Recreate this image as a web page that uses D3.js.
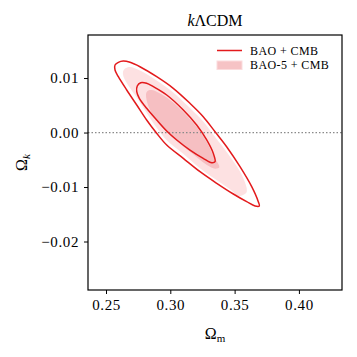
<!DOCTYPE html>
<html><head><meta charset="utf-8">
<script src="https://cdn.jsdelivr.net/npm/d3@7/dist/d3.min.js"></script>
<style>body{margin:0;background:#fff}svg{display:block}text{font-family:"Liberation Serif","Times New Roman",serif;fill:#000}</style>
</head><body>
<svg id="c" width="357" height="357"></svg>
<script>
// ---- data (Ωm, Ωk) ----
const title = "kΛCDM";
const xTicks = [0.25, 0.30, 0.35, 0.40];
const yTicks = [0.01, 0.00, -0.01, -0.02];
const xDomain = [0.236, 0.4335];
const yDomain = [-0.0289, 0.0179];
const seriesNames = ["BAO + CMB", "BAO-5 + CMB"];
// BAO + CMB contours (lines)
const baoCmb2sigma = [[0.2570,0.01148],[0.2570,0.01239],[0.2596,0.01289],[0.2634,0.01313],[0.2687,0.01289],[0.2764,0.01208],[0.2894,0.01025],[0.3023,0.00812],[0.3153,0.00536],[0.3256,0.00291],[0.3348,0.00015],[0.3438,-0.00260],[0.3542,-0.00627],[0.3633,-0.00994],[0.3684,-0.01269],[0.3692,-0.01348],[0.3659,-0.01348],[0.3594,-0.01269],[0.3490,-0.01128],[0.3361,-0.00932],[0.3231,-0.00719],[0.3101,-0.00473],[0.2972,-0.00229],[0.2894,-0.00014],[0.2816,0.00230],[0.2739,0.00505],[0.2661,0.00781],[0.2596,0.01025]];
const baoCmb1sigma = [[0.2739,0.00749],[0.2743,0.00854],[0.2770,0.00915],[0.2816,0.00904],[0.2868,0.00841],[0.2972,0.00689],[0.3101,0.00414],[0.3205,0.00138],[0.3283,-0.00137],[0.3334,-0.00381],[0.3348,-0.00535],[0.3322,-0.00554],[0.3256,-0.00473],[0.3153,-0.00321],[0.3050,-0.00137],[0.2972,0.00028],[0.2894,0.00230],[0.2816,0.00445],[0.2759,0.00628]];
// BAO-5 + CMB contours (filled)
const bao5Cmb2sigma = [[0.2632,0.01111],[0.2648,0.01175],[0.2687,0.01203],[0.2764,0.01138],[0.2894,0.00955],[0.3023,0.00735],[0.3153,0.00450],[0.3256,0.00202],[0.3348,-0.00082],[0.3438,-0.00357],[0.3542,-0.00715],[0.3592,-0.01000],[0.3592,-0.01101],[0.3565,-0.01146],[0.3526,-0.01165],[0.3472,-0.01055],[0.3348,-0.00853],[0.3223,-0.00642],[0.3103,-0.00394],[0.2978,-0.00155],[0.2904,0.00056],[0.2834,0.00294],[0.2760,0.00570],[0.2687,0.00817],[0.2640,0.01001]];
const bao5Cmb1sigma = [[0.2811,0.00689],[0.2821,0.00757],[0.2855,0.00781],[0.2972,0.00643],[0.3101,0.00377],[0.3205,0.00101],[0.3283,-0.00174],[0.3334,-0.00422],[0.3381,-0.00638],[0.3348,-0.00664],[0.3285,-0.00596],[0.3176,-0.00394],[0.3068,-0.00192],[0.2972,0.00010],[0.2881,0.00258],[0.2829,0.00487]];
const refLine = 0.0;

// ---- layout ----
const L = 88, R = 342, T = 35, B = 290;
const red = "#e31a1c", light = "#fde1e2", dark = "#f6bfc2";
const svg = d3.select("#c");
const x = d3.scaleLinear().domain(xDomain).range([L, R]);
const y = d3.scaleLinear().domain(yDomain).range([B, T]);
const line = d3.line().x(d => x(d[0])).y(d => y(d[1])).curve(d3.curveCatmullRomClosed.alpha(0.5));

svg.append("path").attr("d", line(bao5Cmb2sigma)).attr("fill", light);
svg.append("path").attr("d", line(bao5Cmb1sigma)).attr("fill", dark);
svg.append("line").attr("x1", L).attr("x2", R).attr("y1", y(refLine)).attr("y2", y(refLine))
  .attr("stroke", "#8a8a8a").attr("stroke-width", 1.2).attr("stroke-dasharray", "1.5,2");
[baoCmb2sigma, baoCmb1sigma].forEach(c =>
  svg.append("path").attr("d", line(c)).attr("fill", "none").attr("stroke", red).attr("stroke-width", 1.5));

const fmt = v => (v < 0 ? "\u2212" : "") + Math.abs(v).toFixed(2);
const xa = svg.append("g").attr("transform", `translate(0,${B})`)
  .call(d3.axisBottom(x).tickValues(xTicks).tickFormat(fmt).tickSize(4).tickPadding(5));
const ya = svg.append("g").attr("transform", `translate(${L},0)`)
  .call(d3.axisLeft(y).tickValues(yTicks).tickFormat(fmt).tickSize(4).tickPadding(5));
[xa, ya].forEach(g => {
  g.select(".domain").remove();
  g.selectAll("line").attr("stroke", "#000").attr("stroke-width", 1);
  g.selectAll("text").attr("font-size", 15).attr("letter-spacing", 0.6)
   .attr("font-family", "Liberation Serif, serif").attr("fill", "#000");
});
svg.append("rect").attr("x", L).attr("y", T).attr("width", R - L).attr("height", B - T)
  .attr("fill", "none").attr("stroke", "#000").attr("stroke-width", 1.2);

// title
const tt = svg.append("text").attr("x", (L + R) / 2).attr("y", 26).attr("text-anchor", "middle").attr("font-size", 16);
tt.append("tspan").attr("font-style", "italic").text(title.slice(0, 1));
tt.append("tspan").text(title.slice(1));

// axis labels
const xl = svg.append("text").attr("x", (L + R) / 2).attr("y", 339).attr("text-anchor", "middle").attr("font-size", 16);
xl.append("tspan").text("Ω");
xl.append("tspan").attr("font-size", 11).attr("dy", 3).text("m");
const yl = svg.append("text").attr("transform", `translate(27,${(T + B) / 2}) rotate(-90)`).attr("text-anchor", "middle").attr("font-size", 16);
yl.append("tspan").text("Ω");
yl.append("tspan").attr("font-size", 11).attr("dy", 3).attr("font-style", "italic").text("k");

// legend
const lg = svg.append("g");
lg.append("line").attr("x1", 217).attr("x2", 242).attr("y1", 50.5).attr("y2", 50.5).attr("stroke", red).attr("stroke-width", 1.5);
lg.append("rect").attr("x", 217).attr("y", 61).attr("width", 25).attr("height", 8.5)
  .attr("fill", "#f6c3c5").attr("stroke", "#fbdcdd").attr("stroke-width", 1);
lg.selectAll("text.lt").data(seriesNames).join("text").attr("class", "lt")
  .attr("x", 250).attr("y", (d, i) => 54.5 + i * 14.5).attr("font-size", 12).attr("letter-spacing", 0.4).text(d => d);
</script>
</body></html>
